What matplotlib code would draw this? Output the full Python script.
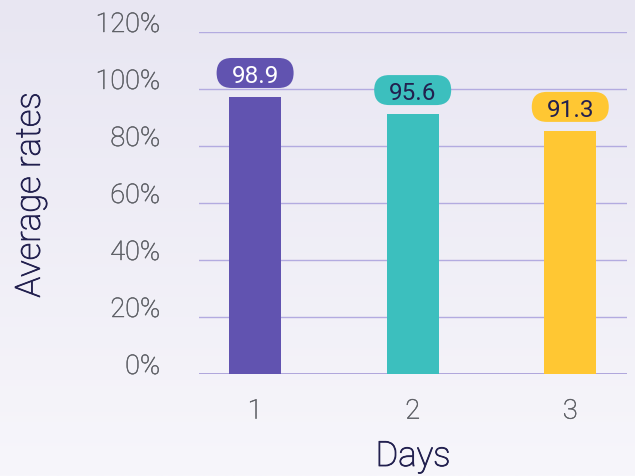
import numpy as np
import matplotlib
matplotlib.use("Agg")
import matplotlib.pyplot as plt
import matplotlib.transforms as mtransforms
import matplotlib.patheffects as pe
from matplotlib.patches import FancyBboxPatch

# ---- data ----
days = [1, 2, 3]
day_labels = ["1", "2", "3"]
bar_heights = [97.2, 91.2, 85.3]          # bar heights as drawn
value_labels = ["98.9", "95.6", "91.3"]   # values shown in the pills
bar_colors = ["#6153b0", "#3cbfbe", "#ffc733"]
label_text_colors = ["#ffffff", "#22204f", "#22204f"]
y_ticks = [0, 20, 40, 60, 80, 100, 120]
y_tick_labels = ["0%", "20%", "40%", "60%", "80%", "100%", "120%"]

DPI = 100
W, H = 635, 477
fig = plt.figure(figsize=(W / DPI, H / DPI), dpi=DPI)

# background gradient
bg = fig.add_axes([0, 0, 1, 1], zorder=-10)
top = np.array([0xe8, 0xe6, 0xf2]) / 255
bot = np.array([0xf7, 0xf6, 0xfb]) / 255
t = np.linspace(0, 1, 256)[:, None]
grad = top[None, :] * (1 - t) + bot[None, :] * t
bg.imshow(grad[:, None, :], aspect="auto", extent=[0, 1, 0, 1])
bg.axis("off")

ax = fig.add_axes([199 / W, 1 - 375 / H, (627 - 199) / W, (375 - 33) / H])
ax.patch.set_alpha(0)
ax.set_xlim(0.644, 3.36)
ax.set_ylim(0, 120)

for s in ax.spines.values():
    s.set_visible(False)

tick_color = "#5e6066"
tick_fx = [pe.withStroke(linewidth=0.35, foreground=tick_color)]
ax.set_yticks(y_ticks)
ax.set_yticklabels(y_tick_labels, fontfamily="Roboto", fontweight="light",
                   fontsize=19.5, color=tick_color)
for lbl in ax.get_yticklabels():
    lbl.set_verticalalignment("baseline")
    lbl.set_path_effects(tick_fx)
ax.tick_params(axis="y", length=0, pad=28)

ax.set_xticks(days)
ax.set_xticklabels(day_labels, fontfamily="Roboto", fontweight="light",
                   fontsize=19.5, color=tick_color)
for lbl in ax.get_xticklabels():
    lbl.set_path_effects(tick_fx)
ax.tick_params(axis="x", length=0, pad=17)

for yv in y_ticks:
    if yv == 0:
        ax.axhline(yv, color="#a89ed9", lw=2.0, zorder=1)
    else:
        ax.axhline(yv, color="#b3abe0", lw=1.0, zorder=1)

ax.bar(days, bar_heights, width=0.33, color=bar_colors, zorder=3)

# pill labels
pw, ph = 77, 30
for x, h, txt, c, tc in zip(days, bar_heights, value_labels, bar_colors, label_text_colors):
    tr = mtransforms.IdentityTransform() + mtransforms.ScaledTranslation(x, h, ax.transData)
    patch = FancyBboxPatch((-pw / 2, 24 - ph / 2), pw, ph,
                           boxstyle=f"round,pad=0,rounding_size={ph/2}",
                           transform=tr, facecolor=c, edgecolor="none",
                           zorder=4, clip_on=False)
    ax.add_patch(patch)
    ax.annotate(txt, (x, h), xytext=(0, 24 * 72 / DPI), textcoords="offset points",
                ha="center", va="center_baseline", fontsize=17.5, fontfamily="Roboto",
                color=tc, zorder=5)

lab_color = "#22204f"
lab_fx = [pe.withStroke(linewidth=0.6, foreground=lab_color)]
fig.text(413 / W, 1 - 467 / H, "Days", ha="center", va="baseline",
         fontsize=25, fontfamily="Roboto", fontweight="light", color=lab_color,
         path_effects=lab_fx)
fig.text(30 / W, 1 - 196 / H, "Average rates", ha="center", va="center",
         rotation=90, fontsize=25, fontfamily="Roboto", fontweight="light",
         color=lab_color, path_effects=lab_fx)

fig.savefig("out.png", dpi=DPI)
